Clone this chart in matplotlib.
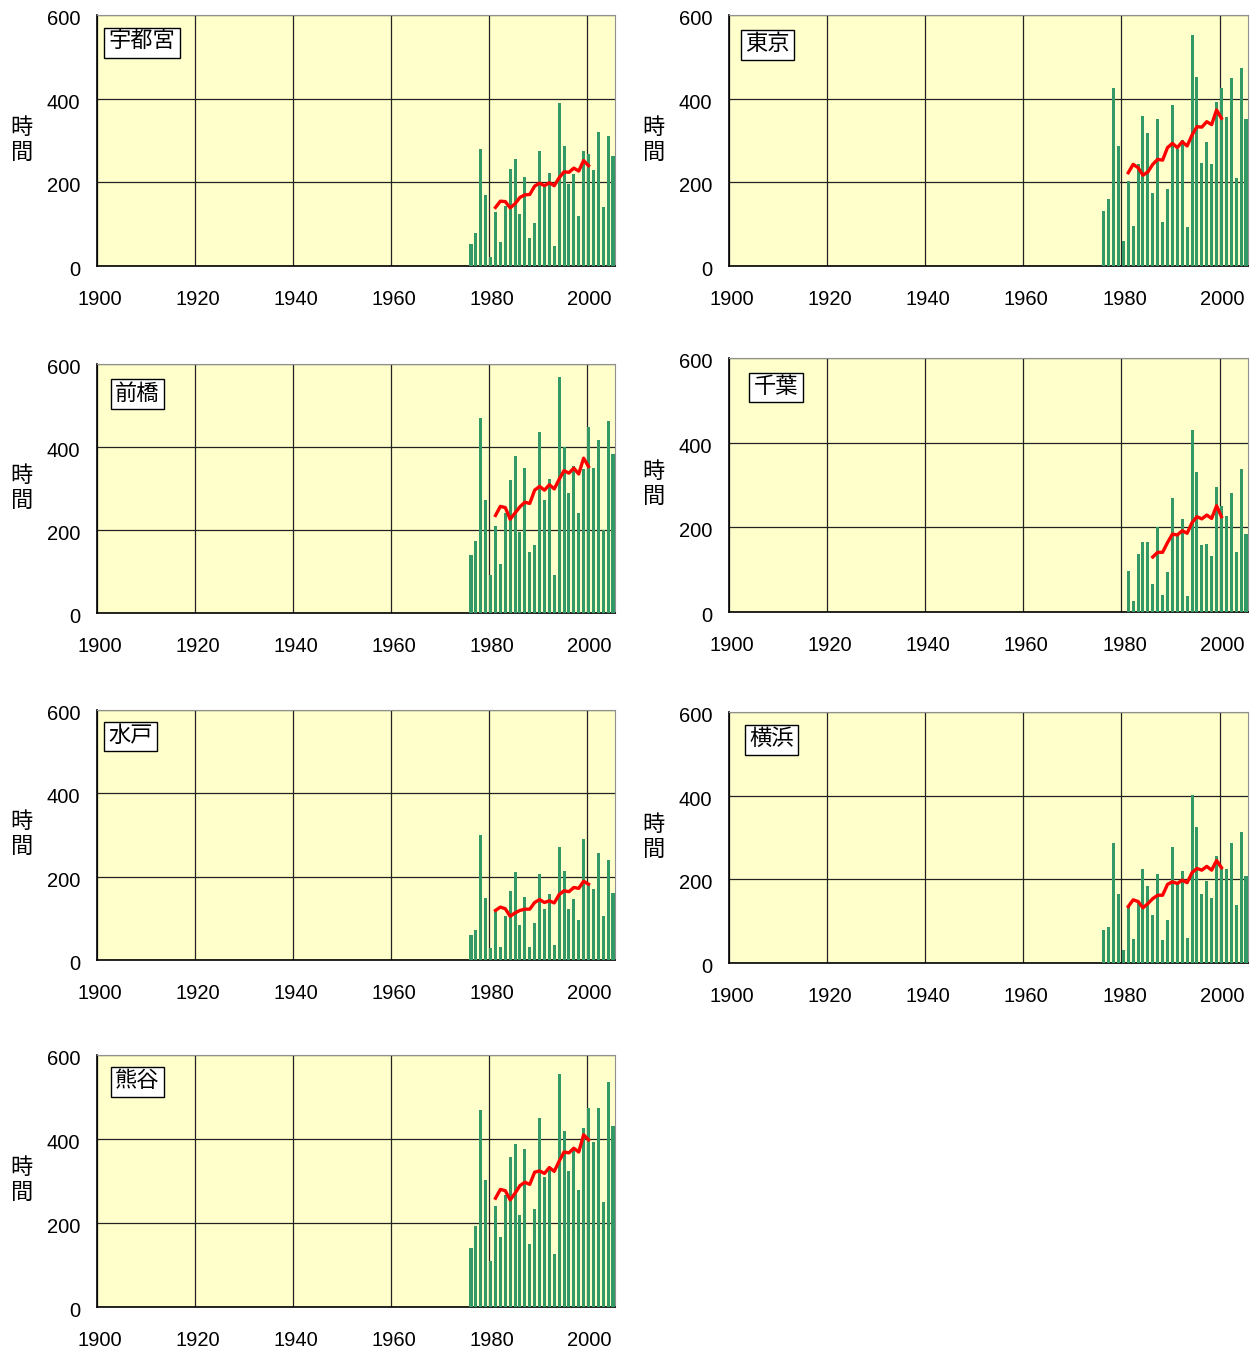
import matplotlib
matplotlib.use("Agg")
import matplotlib.pyplot as plt
from matplotlib.transforms import ScaledTranslation

plt.rcParams['font.family'] = ['Liberation Sans', 'Noto Sans CJK JP', 'DejaVu Sans']

# station names
names = ["宇都宮", "東京", "前橋", "千葉", "水戸", "横浜", "熊谷"]

# first year of the bars and of the red line, per station
bar_start = [1976, 1976, 1976, 1981, 1976, 1976, 1976]
line_start = [1981, 1981, 1981, 1986, 1981, 1981, 1981]

# yearly values (hours)
utsunomiya = [52, 79, 279, 169, 22, 128, 57, 143, 231, 255, 124, 212, 66, 102, 274,
              189, 222, 49, 389, 286, 196, 219, 119, 274, 267, 229, 320, 140, 310, 262]
tokyo = [131, 160, 425, 286, 59, 203, 95, 243, 358, 318, 174, 351, 105, 184, 385,
         279, 301, 93, 552, 452, 246, 296, 243, 392, 425, 356, 449, 210, 473, 351]
maebashi = [139, 173, 469, 272, 92, 209, 117, 240, 321, 379, 194, 350, 146, 165, 435,
            272, 323, 92, 569, 399, 289, 355, 241, 347, 447, 350, 416, 199, 462, 384]
chiba = [98, 27, 137, 165, 165, 67, 201, 41, 94, 270, 182, 220, 37, 430, 330,
         158, 160, 132, 296, 251, 227, 282, 141, 337, 184]
mito = [61, 71, 301, 148, 30, 117, 32, 105, 165, 211, 85, 151, 32, 88, 206,
        122, 158, 35, 272, 214, 122, 146, 95, 291, 180, 170, 257, 105, 240, 160]
yokohama = [78, 85, 286, 164, 30, 135, 57, 148, 224, 183, 114, 212, 54, 102, 277,
            188, 219, 59, 401, 324, 164, 195, 155, 255, 228, 224, 286, 138, 312, 207]
kumagaya = [140, 193, 470, 303, 109, 241, 167, 267, 358, 387, 219, 377, 150, 234, 451,
            310, 334, 126, 554, 418, 324, 375, 279, 427, 473, 394, 473, 250, 535, 432]

# red line (moving average)
utsunomiya_avg = [140, 155, 154, 139, 149, 164, 170, 171, 191, 198,
                  192, 199, 192, 211, 225, 224, 234, 227, 252, 240]
tokyo_avg = [223, 243, 235, 217, 225, 243, 255, 253, 283, 293,
             283, 297, 287, 313, 333, 332, 345, 338, 373, 353]
maebashi_avg = [235, 257, 254, 226, 241, 256, 267, 264, 296, 305,
                296, 309, 299, 322, 343, 337, 349, 335, 373, 353]
chiba_avg = [130, 141, 141, 164, 184, 182, 192, 186, 211, 225, 220, 229, 221, 251, 225]
mito_avg = [119, 127, 123, 105, 113, 119, 122, 122, 138, 145,
            138, 142, 137, 157, 166, 164, 174, 172, 189, 182]
yokohama_avg = [135, 151, 147, 132, 142, 154, 162, 162, 188, 194,
                190, 198, 192, 216, 226, 222, 231, 222, 245, 228]
kumagaya_avg = [259, 280, 277, 255, 271, 289, 297, 292, 321, 324,
                318, 332, 323, 347, 369, 367, 378, 369, 410, 398]

values = [utsunomiya, tokyo, maebashi, chiba, mito, yokohama, kumagaya]
averages = [utsunomiya_avg, tokyo_avg, maebashi_avg, chiba_avg, mito_avg, yokohama_avg, kumagaya_avg]

W, H = 1256, 1355
fig = plt.figure(figsize=(W / 100, H / 100), dpi=100)

# axes boxes in pixels: left, top, right, bottom
boxes = [(97, 15, 615, 266), (729, 15, 1248, 266),
         (97, 364, 615, 613), (729, 358, 1248, 612),
         (97, 710, 615, 960), (729, 712, 1248, 963),
         (97, 1055, 615, 1307)]
# label box position (axes fraction)
label_pos = [(0.022, 0.932), (0.031, 0.924), (0.035, 0.92), (0.048, 0.925),
             (0.022, 0.936), (0.039, 0.932), (0.035, 0.936)]

xshift = ScaledTranslation(3 / 100, 0, fig.dpi_scale_trans)
yshift = ScaledTranslation(0, -2.5 / 100, fig.dpi_scale_trans)

for i in range(len(names)):
    l, t, r, b = boxes[i]
    ax = fig.add_axes([l / W, 1 - b / H, (r - l) / W, (b - t) / H])
    ax.set_facecolor("#FFFFCC")

    years = [bar_start[i] + k for k in range(len(values[i]))]
    ax.bar([y + 0.08 for y in years], values[i], width=0.62, align="edge",
           color="#339966", zorder=3)
    line_years = [line_start[i] + k + 0.39 for k in range(len(averages[i]))]
    ax.plot(line_years, averages[i], color="#FF0000", lw=2.4, zorder=4)

    ax.set_xlim(1900, 2005.8)
    ax.set_ylim(0, 600)
    ax.set_xticks(range(1900, 2001, 20))
    ax.set_yticks([0, 200, 400, 600])
    ax.grid(True, color="#222222", lw=0.9, zorder=1)
    ax.tick_params(length=0, labelsize=14.5, colors="black")
    ax.tick_params(axis="x", pad=17)
    ax.tick_params(axis="y", pad=12)
    for lab in ax.get_xticklabels():
        lab.set_transform(lab.get_transform() + xshift)
    for lab in ax.get_yticklabels():
        lab.set_transform(lab.get_transform() + yshift)
    for side in ["top", "right"]:
        ax.spines[side].set_color("#909090")
    for side in ["left", "bottom"]:
        ax.spines[side].set_color("black")
        ax.spines[side].set_linewidth(1.2)

    ax.set_ylabel("時\n間", rotation=0, fontsize=16, linespacing=1.25, va="center")
    ax.yaxis.set_label_coords(-0.145, 0.5)

    ax.text(label_pos[i][0], label_pos[i][1], names[i], transform=ax.transAxes,
            fontsize=16, ha="left", va="top", zorder=6,
            bbox=dict(boxstyle="square,pad=0.2", fc="white", ec="black", lw=1))

fig.savefig("out.png", dpi=100)
